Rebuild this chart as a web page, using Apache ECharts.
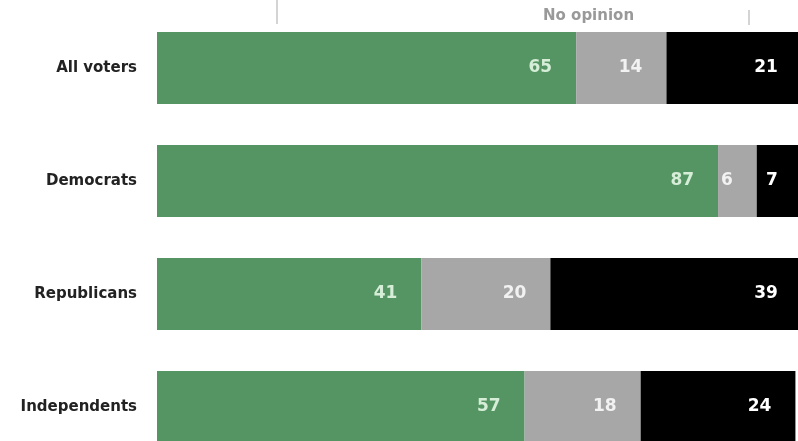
<!DOCTYPE html>
<html>
<head>
<meta charset="utf-8">
<script src="https://cdn.jsdelivr.net/npm/echarts@6/dist/echarts.min.js"></script>
<style>
html,body{margin:0;padding:0;background:#fff;}
#chart{width:798px;height:441px;}
</style>
</head>
<body>
<div id="chart"></div>
<script>
const categories = ['All voters', 'Democrats', 'Republicans', 'Independents'];
const supportValues = [65, 87, 41, 57];
const noOpinionValues = [14, 6, 20, 18];
const opposeValues = [21, 7, 39, 24];
const headerLabel = 'No opinion';

const chart = echarts.init(document.getElementById('chart'));

function makeSeries(name, values, color, labelColor) {
  return {
    name: name,
    type: 'bar',
    stack: 'total',
    data: values,
    barWidth: 72,
    clip: false,
    itemStyle: { color: color },
    label: {
      show: true,
      position: 'insideRight',
      distance: 24,
      color: labelColor,
      fontFamily: 'DejaVu Sans',
      fontWeight: 'bold',
      fontSize: 17
    },
    emphasis: { disabled: true }
  };
}

chart.setOption({
  animation: false,
  backgroundColor: '#ffffff',
  grid: { left: 157, right: 0, top: 68, bottom: 34 },
  xAxis: {
    type: 'value', min: 0, max: 99.4,
    show: false
  },
  yAxis: {
    type: 'category',
    data: categories,
    inverse: true,
    boundaryGap: false,
    axisLine: { show: false },
    axisTick: { show: false },
    splitLine: { show: false },
    axisLabel: {
      margin: 20,
      color: '#222',
      fontFamily: 'DejaVu Sans',
      fontWeight: 'bold',
      fontSize: 15
    }
  },
  series: [
    makeSeries('Support', supportValues, '#559563', '#d6eed8'),
    makeSeries('No opinion', noOpinionValues, '#a7a7a7', '#f2f2f2'),
    makeSeries('Oppose', opposeValues, '#000000', '#ffffff')
  ],
  graphic: [
    { type: 'text', left: 543, top: 9, style: { text: headerLabel, fill: '#999', font: 'bold 15px "DejaVu Sans"' } },
    { type: 'rect', shape: { x: 276, y: 0, width: 2, height: 24 }, style: { fill: '#d4d4d4' } },
    { type: 'rect', shape: { x: 748, y: 10, width: 2, height: 15 }, style: { fill: '#d4d4d4' } }
  ]
});
</script>
</body>
</html>
